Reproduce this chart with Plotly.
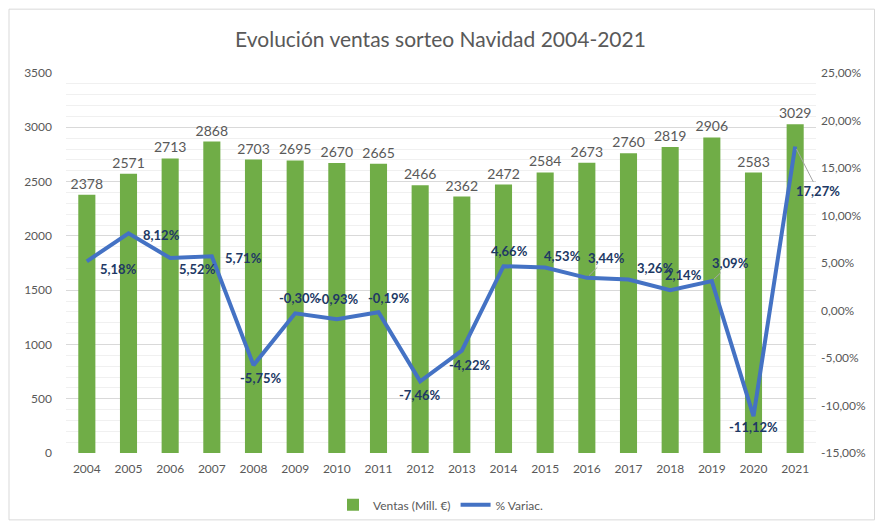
import plotly.graph_objects as go

years = ["2004", "2005", "2006", "2007", "2008", "2009", "2010", "2011", "2012",
         "2013", "2014", "2015", "2016", "2017", "2018", "2019", "2020", "2021"]
ventas = [2378, 2571, 2713, 2868, 2703, 2695, 2670, 2665, 2466,
          2362, 2472, 2584, 2673, 2760, 2819, 2906, 2583, 3029]
variacion = [5.18, 8.12, 5.52, 5.71, -5.75, -0.30, -0.93, -0.19, -7.46,
             -4.22, 4.66, 4.53, 3.44, 3.26, 2.14, 3.09, -11.12, 17.27]
left_ticks = [0, 500, 1000, 1500, 2000, 2500, 3000, 3500]
right_ticks = [-15, -10, -5, 0, 5, 10, 15, 20, 25]

# label offsets (pixels) for the % labels: (dx, dy up), leader flag
offsets = [(32, -8, False), (33, -2, False), (27, -11, False), (32, -2, False),
           (7, -13, False), (5, 15, False), (1, 20, False), (10, 14, False),
           (0, -14, False), (8, -14, False), (6, 15, False), (17, 11, False),
           (20, 20, True), (27, 12, False), (13, 15, False), (19, 18, True),
           (0, -11, False), (23, -45, True)]

GREY = "#595959"
FONT = "Lato"

fig = go.Figure()
fig.add_trace(go.Bar(
    x=years, y=ventas, name="Ventas (Mill. €)",
    marker=dict(color="#70AD47", line=dict(width=0)),
    text=[str(v) for v in ventas], textposition="outside",
    textfont=dict(color=GREY, size=14, family=FONT),
    constraintext="none",
    cliponaxis=False,
))
fig.add_trace(go.Scatter(
    x=years, y=variacion, name="% Variac.", yaxis="y2",
    mode="lines", line=dict(color="#4472C4", width=4),
))

def fmt(v):
    return f"{v:.2f}".replace(".", ",") + "%"

annotations = []
for i, (v, (dx, dy, leader)) in enumerate(zip(variacion, offsets)):
    if leader:
        annotations.append(dict(
            x=i, y=v, xref="x", yref="y2", text=fmt(v),
            showarrow=True, ax=dx, ay=-dy, arrowhead=0, arrowwidth=1,
            arrowcolor="#a6a6a6", standoff=3,
            font=dict(color="#203864", size=13, family=FONT, weight="bold"),
        ))
    else:
        annotations.append(dict(
            x=i, y=v, xref="x", yref="y2", text=fmt(v),
            showarrow=False, xshift=dx, yshift=dy,
            font=dict(color="#203864", size=13, family=FONT, weight="bold"),
        ))

fig.update_layout(
    width=881, height=527,
    margin=dict(l=66, r=65, t=73, b=74),
    paper_bgcolor="white", plot_bgcolor="white",
    font=dict(family=FONT, color=GREY, size=12),
    title=dict(text="Evolución ventas sorteo Navidad 2004-2021",
               x=0.5, xanchor="center", y=0.925, yanchor="middle",
               font=dict(size=21, color=GREY, family=FONT)),
    bargap=0.59,
    showlegend=True,
    legend=dict(orientation="h", x=0.5, xanchor="center",
                xref="container", yref="container", y=0.042, yanchor="middle",
                font=dict(size=12, color=GREY, family=FONT), traceorder="normal"),
    xaxis=dict(type="category", range=[-0.5, len(years) - 0.5], autorange=False,
               showgrid=False, showline=False, ticks="", automargin=False,
               ticklabelstandoff=7,
               tickfont=dict(size=12, color=GREY)),
    yaxis=dict(range=[0, 3500], tickvals=left_ticks, showgrid=True, automargin=False,
               gridcolor="#d9d9d9", gridwidth=1, zeroline=False, ticks="",
               ticklabelstandoff=13,
               tickfont=dict(size=12, color=GREY),
               minor=dict(dtick=100, showgrid=True, gridcolor="#f0f0f0", gridwidth=1)),
    yaxis2=dict(range=[-15, 25], tickvals=right_ticks, automargin=False,
                ticktext=[fmt(t) for t in right_ticks],
                overlaying="y", side="right", showgrid=False, zeroline=False,
                ticks="", ticklabelstandoff=4,
                tickfont=dict(size=12, color=GREY)),
    annotations=annotations,
    shapes=[dict(type="rect", xref="paper", yref="paper",
                 x0=-0.076, x1=1.078, y0=-0.176, y1=1.168,
                 line=dict(color="#d9d9d9", width=1), layer="below")],
)

fig.write_html("out.html", config={"displayModeBar": False},
               post_script="document.body.style.margin='0';")
